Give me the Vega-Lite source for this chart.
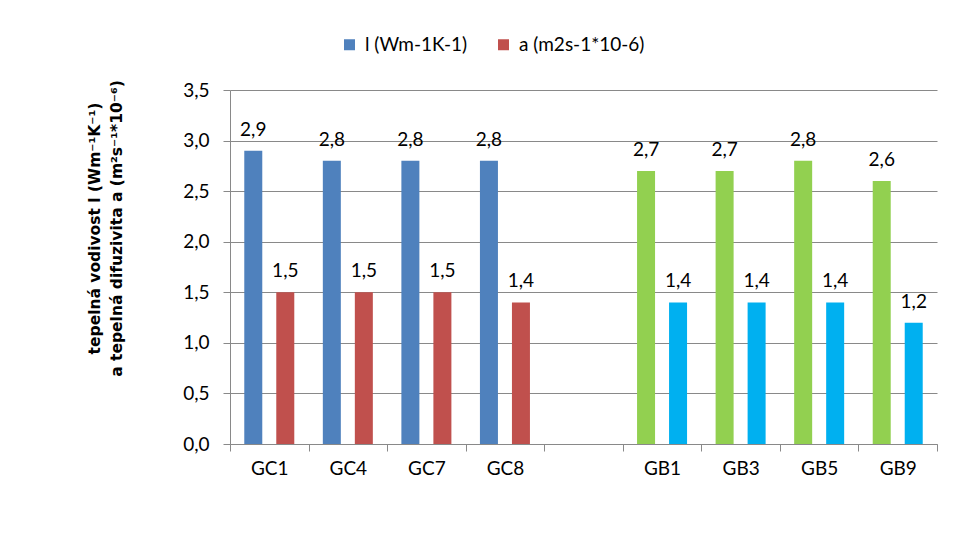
{
  "$schema": "https://vega.github.io/schema/vega-lite/v6.json",
  "width": 707,
  "height": 354,
  "autosize": "none",
  "padding": {"left": 230, "top": 90, "right": 34, "bottom": 106},
  "config": {
    "locale": {"number": {"decimal": ",", "thousands": " ", "grouping": [3], "currency": ["", " €"]}},
    "view": {"stroke": null},
    "font": "Lato"
  },
  "data": {
    "values": [
      {"sample": "GC1", "param": "l", "series": "l (Wm-1K-1)", "value": 2.9},
      {"sample": "GC1", "param": "a", "series": "a (m2s-1*10-6)", "value": 1.5},
      {"sample": "GC4", "param": "l", "series": "l (Wm-1K-1)", "value": 2.8},
      {"sample": "GC4", "param": "a", "series": "a (m2s-1*10-6)", "value": 1.5},
      {"sample": "GC7", "param": "l", "series": "l (Wm-1K-1)", "value": 2.8},
      {"sample": "GC7", "param": "a", "series": "a (m2s-1*10-6)", "value": 1.5},
      {"sample": "GC8", "param": "l", "series": "l (Wm-1K-1)", "value": 2.8},
      {"sample": "GC8", "param": "a", "series": "a (m2s-1*10-6)", "value": 1.4},
      {"sample": "GB1", "param": "l", "series": "l GB", "value": 2.7},
      {"sample": "GB1", "param": "a", "series": "a GB", "value": 1.4},
      {"sample": "GB3", "param": "l", "series": "l GB", "value": 2.7},
      {"sample": "GB3", "param": "a", "series": "a GB", "value": 1.4},
      {"sample": "GB5", "param": "l", "series": "l GB", "value": 2.8},
      {"sample": "GB5", "param": "a", "series": "a GB", "value": 1.4},
      {"sample": "GB9", "param": "l", "series": "l GB", "value": 2.6},
      {"sample": "GB9", "param": "a", "series": "a GB", "value": 1.2}
    ]
  },
  "encoding": {
    "x": {
      "field": "sample",
      "type": "nominal",
      "sort": null,
      "scale": {
        "domain": ["GC1", "GC4", "GC7", "GC8", " ", "GB1", "GB3", "GB5", "GB9"],
        "paddingInner": 0,
        "paddingOuter": 0
      },
      "axis": {
        "title": null,
        "labelAngle": 0,
        "labelFontSize": 19,
        "labelColor": "#000000",
        "labelPadding": 8,
        "tickBand": "extent",
        "tickSize": 7,
        "tickColor": "#898989",
        "domainColor": "#898989",
        "grid": false
      }
    },
    "xOffset": {
      "field": "param",
      "type": "nominal",
      "scale": {"domain": ["l", "a"], "paddingInner": 0.4375, "paddingOuter": 0.446}
    },
    "y": {
      "field": "value",
      "type": "quantitative",
      "scale": {"domain": [0, 3.5], "nice": false},
      "axis": {
        "values": [0, 0.5, 1, 1.5, 2, 2.5, 3, 3.5],
        "format": ".1f",
        "labelFontSize": 19,
        "labelColor": "#000000",
        "labelPadding": 14,
        "tickSize": 7,
        "tickColor": "#898989",
        "domainColor": "#898989",
        "gridColor": "#898989",
        "title": ["tepelná vodivost l (Wm⁻¹K⁻¹)", "a tepelná difuzivita a (m²s⁻¹*10⁻⁶)"],
        "titleFont": "DejaVu Sans",
        "titleFontSize": 15.5,
        "titleFontWeight": "bold",
        "titleColor": "#000000",
        "titleAngle": -90,
        "titleAlign": "center",
        "titleBaseline": "middle",
        "titleX": -136,
        "titleY": 138,
        "titleLineHeight": 22
      }
    }
  },
  "layer": [
    {
      "mark": {"type": "bar"},
      "encoding": {
        "color": {
          "field": "series",
          "type": "nominal",
          "scale": {
            "domain": ["l (Wm-1K-1)", "a (m2s-1*10-6)", "l GB", "a GB"],
            "range": ["#4F81BD", "#C0504D", "#92D050", "#00B0F0"]
          },
          "legend": {
            "values": ["l (Wm-1K-1)", "a (m2s-1*10-6)"],
            "title": null,
            "orient": "none",
            "direction": "horizontal",
            "legendX": 110,
            "legendY": -55,
            "symbolType": "square",
            "symbolSize": 121,
            "symbolStrokeWidth": 0,
            "labelFontSize": 19,
            "labelColor": "#000000",
            "columnPadding": 26,
            "labelOffset": 6
          }
        }
      }
    },
    {
      "mark": {"type": "text", "baseline": "alphabetic", "dy": -15, "fontSize": 19, "color": "#000000"},
      "encoding": {
        "text": {"field": "value", "type": "quantitative", "format": ".1f"}
      }
    }
  ]
}
